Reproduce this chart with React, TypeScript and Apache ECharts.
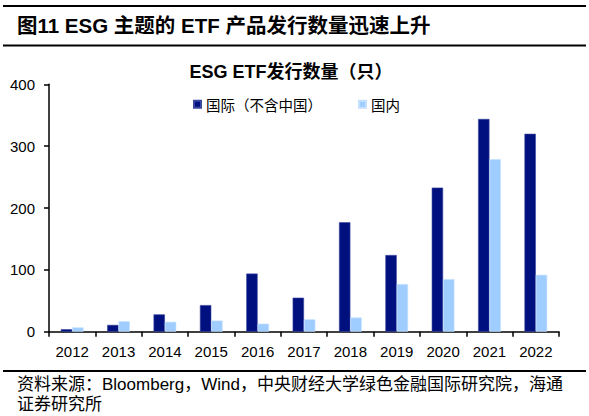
import React, { useEffect, useRef } from "react";
import * as echarts from "echarts";

const years = ["2012", "2013", "2014", "2015", "2016", "2017", "2018", "2019", "2020", "2021", "2022"];
const intlValues = [4, 11, 28, 43, 94, 55, 177, 124, 233, 344, 320];
const domesticValues = [7, 17, 16, 18, 13, 20, 23, 77, 85, 279, 92];
const seriesNames = ["国际（不含中国）", "国内"];
const headerTitle = "图11 ESG 主题的 ETF 产品发行数量迅速上升";
const chartTitle = "ESG ETF发行数量（只）";
const sourceLine1 = "资料来源：Bloomberg，Wind，中央财经大学绿色金融国际研究院，海通";
const sourceLine2 = "证券研究所";

const NAVY = "#00107F";
const LIGHT = "#A0CDFF";
const FONT = "'Liberation Sans', Arial, 'Noto Sans CJK SC', sans-serif";

export default function App() {
  const ref = useRef<HTMLDivElement>(null);
  useEffect(() => {
    if (!ref.current) return;
    const chart = echarts.init(ref.current, null, { renderer: "svg" });
    chart.setOption({
      animation: false,
      backgroundColor: "#fff",
      textStyle: { fontFamily: FONT },
      title: {
        text: chartTitle,
        left: 286,
        textAlign: "center",
        top: 58,
        textStyle: { fontSize: 18, fontWeight: "bold", color: "#000", fontFamily: FONT },
      },
      legend: {
        left: 188,
        top: 92,
        itemWidth: 7,
        itemHeight: 7,
        itemGap: 36,
        icon: "rect",
        textStyle: { fontSize: 14.5, color: "#000", fontFamily: "'Noto Sans CJK SC', sans-serif" },
        data: seriesNames,
      },
      grid: { left: 49, right: 30, top: 84.3, bottom: 84.3, containLabel: false },
      xAxis: {
        type: "category",
        data: years,
        axisLine: { lineStyle: { color: "#000", width: 1.5 } },
        axisTick: { show: true, length: 5, lineStyle: { color: "#000", width: 1.5 }, alignWithLabel: false },
        axisLabel: { fontSize: 15, color: "#000", margin: 12, fontFamily: FONT },
      },
      yAxis: {
        type: "value",
        min: 0,
        max: 400,
        interval: 100,
        splitLine: { show: false },
        axisLine: { show: true, lineStyle: { color: "#000", width: 1.5 } },
        axisTick: { show: true, length: 5, lineStyle: { color: "#000", width: 1.5 } },
        axisLabel: { fontSize: 15, color: "#000", margin: 14, fontFamily: FONT },
      },
      series: [
        {
          name: seriesNames[0],
          type: "bar",
          data: intlValues,
          barGap: "0%",
          barCategoryGap: "51%",
          itemStyle: { color: NAVY, borderColor: "#3a47a0", borderWidth: 0.6 },
        },
        {
          name: seriesNames[1],
          type: "bar",
          data: domesticValues,
          barGap: "0%",
          barCategoryGap: "51%",
          itemStyle: { color: LIGHT, borderColor: "#c4e0ff", borderWidth: 0.6 },
        },
      ],
      graphic: [
        { type: "rect", shape: { x: 3, y: 5, width: 583, height: 2 }, style: { fill: "#000" } },
        { type: "rect", shape: { x: 3, y: 44.5, width: 583, height: 2 }, style: { fill: "#000" } },
        { type: "rect", shape: { x: 3, y: 370, width: 583, height: 2 }, style: { fill: "#000" } },
        {
          type: "text",
          x: 17,
          y: 25.5,
          style: {
            text: headerTitle,
            fontSize: 20.5,
            fontWeight: "bold",
            fill: "#000",
            fontFamily: FONT,
            verticalAlign: "middle",
          },
        },
        {
          type: "text",
          x: 17,
          y: 384,
          style: {
            text: sourceLine1,
            fontSize: 17,
            fill: "#000",
            fontFamily: FONT,
            verticalAlign: "middle",
          },
        },
        {
          type: "text",
          x: 17,
          y: 404,
          style: {
            text: sourceLine2,
            fontSize: 17,
            fill: "#000",
            fontFamily: FONT,
            verticalAlign: "middle",
          },
        },
      ],
    });
    return () => chart.dispose();
  }, []);
  return (
    <div
      ref={ref}
      style={{ position: "fixed", left: 0, top: 0, width: 589, height: 416, background: "#fff" }}
    />
  );
}
